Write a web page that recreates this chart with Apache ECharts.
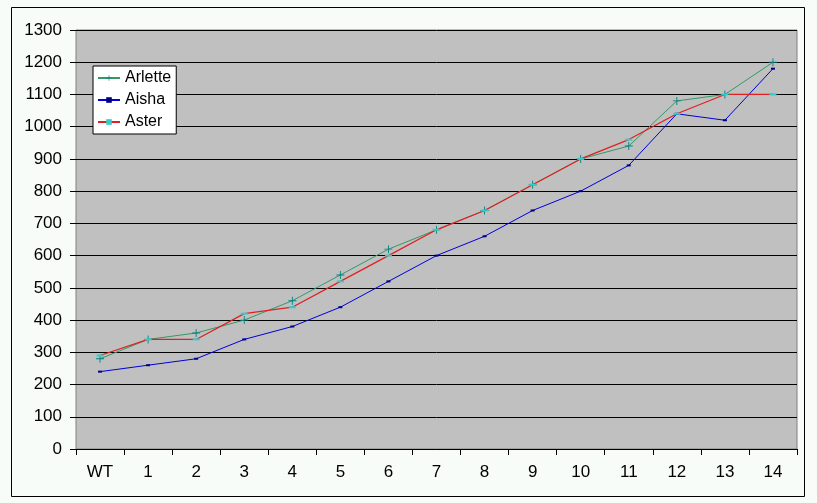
<!DOCTYPE html>
<html><head><meta charset="utf-8">
<script src="https://cdn.jsdelivr.net/npm/echarts@6/dist/echarts.min.js"></script>
<style>html,body{margin:0;padding:0;background:#F8FCF8}#c{width:817px;height:503px}</style>
</head><body><div id="c"></div>
<script>
var categories = ['WT','1','2','3','4','5','6','7','8','9','10','11','12','13','14'];
var arlette = [280,340,360,400,460,540,620,680,740,820,900,940,1080,1100,1200];
var aisha   = [240,260,280,340,380,440,520,600,660,740,800,880,1040,1020,1180];
var aster   = [290,340,340,420,440,520,600,680,740,820,900,960,1040,1100,1100];
var plusPath = 'path://M4,0 L5,0 L5,4 L9,4 L9,5 L5,5 L5,9 L4,9 L4,5 L0,5 L0,4 L4,4 Z';
var chart = echarts.init(document.getElementById('c'));
var font = 'Liberation Sans Narrow, Arial Narrow, Liberation Sans, Arial, sans-serif';
chart.setOption({
  backgroundColor: '#F8FCF8',
  animation: false,
  graphic: [{type:'rect', shape:{x:11.5,y:7.5,width:793,height:489}, style:{fill:'none',stroke:'#000',lineWidth:1}, z:-1}],
  grid: {left:76, right:20, top:30, bottom:54, show:true, backgroundColor:'#C0C0C0', borderColor:'#808080', borderWidth:1},
  legend: {
    orient:'vertical', left:93, top:66, backgroundColor:'#fff', borderColor:'#000', borderWidth:1, borderRadius:0,
    padding:[4,5,4,4], itemGap:6, itemWidth:22, itemHeight:7,
    textStyle:{fontFamily:'Liberation Sans, Arial, sans-serif', fontSize:16, color:'#000'},
    data:['Arlette','Aisha','Aster']
  },
  xAxis: {
    type:'category', data:categories, boundaryGap:true,
    axisLine:{lineStyle:{color:'#000'}},
    axisTick:{show:true, length:6, lineStyle:{color:'#000'}},
    axisLabel:{fontFamily:font, fontSize:17, color:'#000', margin:15}
  },
  yAxis: {
    type:'value', min:0, max:1300, interval:100,
    axisLine:{show:false},
    axisTick:{show:true, length:6, lineStyle:{color:'#000'}},
    axisLabel:{fontFamily:'Liberation Sans, Arial, sans-serif', fontSize:17, color:'#000', margin:14, formatter:function(v){return String(v);}},
    splitLine:{lineStyle:{color:'#000', width:1}}
  },
  series: [
    {name:'Arlette', type:'line', data:arlette, symbol:plusPath, symbolSize:8, showAllSymbol:true,
     lineStyle:{color:'#339966', width:1}, itemStyle:{color:'#008080'}},
    {name:'Aisha', type:'line', data:aisha, symbol:'rect', symbolSize:[4,2], showAllSymbol:true,
     lineStyle:{color:'#0000DD', width:1}, itemStyle:{color:'#000080'}},
    {name:'Aster', type:'line', data:aster, symbol:'rect', symbolSize:[7,2], showAllSymbol:true,
     lineStyle:{color:'#E02020', width:1.2}, itemStyle:{color:'#33CCCC'}}
  ]
});
</script></body></html>
